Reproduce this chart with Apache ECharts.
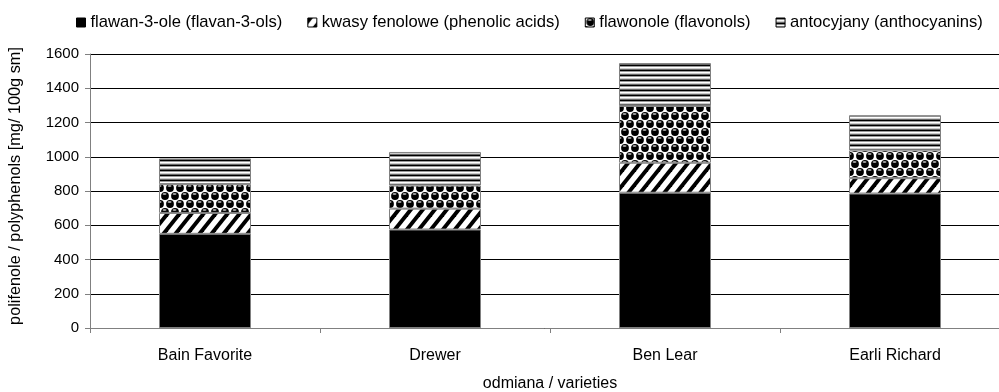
<!DOCTYPE html>
<html>
<head>
<meta charset="utf-8">
<script src="https://cdn.jsdelivr.net/npm/echarts@6/dist/echarts.min.js"></script>
<style>
  html, body { margin: 0; padding: 0; background: #fff; }
  #chart { width: 999px; height: 392px; }
</style>
</head>
<body>
<div id="chart"></div>
<script>
// Polyphenol content of rhubarb varieties, stacked by compound group
const varieties = ['Bain Favorite', 'Drewer', 'Ben Lear', 'Earli Richard'];
const flavan3ols = [550, 575, 790, 785];
const phenolicAcids = [122, 122, 175, 90];
const flavonols = [168, 135, 332, 162];
const anthocyanins = [150, 196, 250, 205];
const seriesNames = [
  'flawan-3-ole (flavan-3-ols)',
  'kwasy fenolowe (phenolic acids)',
  'flawonole (flavonols)',
  'antocyjany (anthocyanins)'
];
const yTicks = { min: 0, max: 1600, interval: 200 };

// Monochrome fill patterns drawn on small tiles
function tile(w, h, draw) {
  const c = document.createElement('canvas');
  c.width = w; c.height = h;
  const ctx = c.getContext('2d');
  draw(ctx, w, h);
  return { image: c, repeat: 'repeat' };
}

const solidBlack = '#000';

const diagonal = tile(12, 15, (ctx, w, h) => {
  ctx.fillStyle = '#fff';
  ctx.fillRect(0, 0, w, h);
  ctx.fillStyle = '#000';
  const b = 5;
  for (let k = -1; k <= 1; k++) {
    const o = k * w;
    ctx.beginPath();
    ctx.moveTo(o, h);
    ctx.lineTo(o + b, h);
    ctx.lineTo(o + w + b, 0);
    ctx.lineTo(o + w, 0);
    ctx.closePath();
    ctx.fill();
  }
});

const balls = tile(10, 16, (ctx, w, h) => {
  ctx.fillStyle = '#fff';
  ctx.fillRect(0, 0, w, h);
  const centers = [[5, 4], [0, 12], [10, 12], [5, 20], [0, -4], [10, -4]];
  centers.forEach(([x, y]) => {
    ctx.fillStyle = '#000';
    ctx.beginPath();
    ctx.arc(x, y, 3.9, 0, Math.PI * 2);
    ctx.fill();
    ctx.fillStyle = '#a0a0a0';
    ctx.beginPath();
    ctx.ellipse(x - 0.5, y - 2, 2, 1, 0, 0, Math.PI * 2);
    ctx.fill();
  });
});

const hlines = tile(4, 5, (ctx, w) => {
  const rows = ['#000', '#999', '#fff', '#ccc', '#666'];
  rows.forEach((col, i) => { ctx.fillStyle = col; ctx.fillRect(0, i, w, 1); });
});

const fills = [solidBlack, diagonal, balls, hlines];
const values = [flavan3ols, phenolicAcids, flavonols, anthocyanins];

const font = "'Liberation Sans', Arial, sans-serif";

const chart = echarts.init(document.getElementById('chart'), null, { renderer: 'canvas' });
chart.setOption({
  animation: false,
  backgroundColor: '#fff',
  textStyle: { fontFamily: font, color: '#000' },
  legend: {
    top: 9,
    left: 71,
    itemWidth: 9,
    itemHeight: 9,
    itemGap: 25,
    icon: 'rect',
    textStyle: { fontFamily: font, fontSize: 16.6, color: '#000' },
    itemStyle: { borderColor: '#000', borderWidth: 1 },
    data: seriesNames
  },
  grid: { left: 90, top: 54, width: 920, height: 274, containLabel: false, outerBoundsMode: 'none' },
  xAxis: {
    type: 'category',
    data: varieties,
    name: 'odmiana / varieties',
    nameLocation: 'middle',
    nameGap: 48,
    nameTextStyle: { fontFamily: font, fontSize: 16, color: '#000' },
    axisLine: { lineStyle: { color: '#808080', width: 1 } },
    axisTick: { show: true, interval: 0, length: 5, lineStyle: { color: '#808080' } },
    axisLabel: { fontFamily: font, fontSize: 16, color: '#000', margin: 20 }
  },
  yAxis: {
    type: 'value',
    min: yTicks.min,
    max: yTicks.max,
    interval: yTicks.interval,
    name: 'polifenole / polyphenols [mg/ 100g sm]',
    nameLocation: 'middle',
    nameGap: 66,
    nameRotate: 90,
    nameTextStyle: { fontFamily: font, fontSize: 16.3, color: '#000', padding: [0, 0, 0, 10] },
    axisLine: { show: true, lineStyle: { color: '#808080', width: 1 } },
    axisTick: { show: true, length: 5, lineStyle: { color: '#808080' } },
    axisLabel: { fontFamily: font, fontSize: 15, color: '#000', margin: 11, formatter: v => String(v) },
    splitLine: { show: true, lineStyle: { color: '#000', width: 1 } }
  },
  series: seriesNames.map((name, i) => ({
    name,
    type: 'bar',
    stack: 'total',
    barWidth: '40%',
    data: values[i],
    itemStyle: { color: fills[i], borderColor: '#808080', borderWidth: 1 },
    emphasis: { disabled: true }
  }))
});
</script>
</body>
</html>
